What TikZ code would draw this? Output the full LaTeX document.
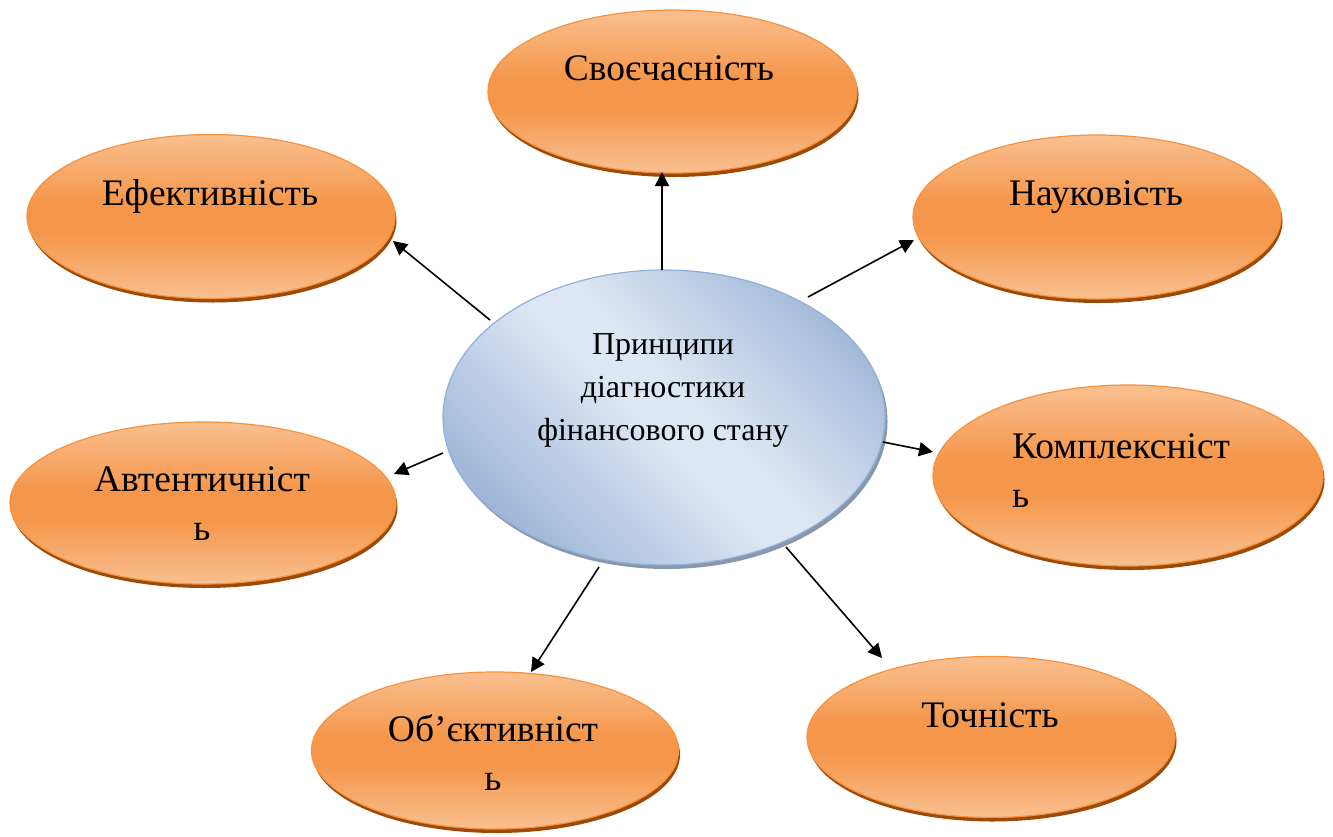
\documentclass[tikz,border=0pt]{standalone}
\usepackage{fontspec}
\setmainfont{Liberation Serif}
\usetikzlibrary{shapes.geometric,arrows.meta,shadows}
\definecolor{orL}{HTML}{F9C090}
\definecolor{orM}{HTML}{F5964A}
\definecolor{orB}{HTML}{F7913E}
\definecolor{orS}{HTML}{9C4A08}
\definecolor{blL}{HTML}{DDE7F3}
\definecolor{blD}{HTML}{9DB4D7}
\definecolor{blB}{HTML}{8EB0DB}
\definecolor{blS}{HTML}{8A97AA}
\pgfdeclareverticalshading{orshade}{100bp}{color(0bp)=(orL); color(25bp)=(orL); color(45bp)=(orM); color(54bp)=(orM); color(75bp)=(orL); color(100bp)=(orL)}
\pgfdeclareverticalshading{hubshade}{100bp}{color(0bp)=(blD); color(24bp)=(blD); color(48bp)=(blL); color(54bp)=(blL); color(78bp)=(blD); color(100bp)=(blD)}
\begin{document}
\begin{tikzpicture}[x=1pt,y=-1pt,
  petal/.style={ellipse, inner sep=0pt, draw=orB, line width=1.2pt, shading=orshade,
    general shadow={fill=orS, shadow xshift=1.5pt, shadow yshift=-4pt}},
  hub/.style={ellipse, inner sep=0pt, draw=blB, line width=1.2pt,
    shading=hubshade, shading angle=-45,
    general shadow={fill=blS, shadow xshift=2.5pt, shadow yshift=-4pt}},
  lab/.style={font=\fontsize{37.5}{49}\selectfont, align=center, anchor=base, inner sep=0pt},
  hublab/.style={font=\fontsize{32}{43}\selectfont, align=center, anchor=base, inner sep=0pt},
  arr/.style={line width=1.6pt, -{Triangle[length=14pt,width=14pt]}}]
\useasboundingbox (0,0) rectangle (1333,836);
% ellipses
\node[hub, minimum width=442pt, minimum height=295pt] (hub) at (664,417.5) {};
\node[petal, minimum width=369pt, minimum height=163pt] (e1) at (672.5,91.5) {};
\node[petal, minimum width=368pt, minimum height=164pt] (e2) at (211,216.5) {};
\node[petal, minimum width=368pt, minimum height=164pt] (e3) at (1097,217) {};
\node[petal, minimum width=390pt, minimum height=181pt] (e4) at (1128,475.5) {};
\node[petal, minimum width=386pt, minimum height=162pt] (e5) at (203,503) {};
\node[petal, minimum width=367pt, minimum height=157pt] (e6) at (495,750.5) {};
\node[petal, minimum width=368pt, minimum height=161pt] (e7) at (991,737) {};
% labels (base = baseline of the last line)
\node[hublab] (th) at (663,440) {Принципи\\діагностики\\фінансового стану};
\node[lab] (t1) at (669,80) {Своєчасність};
\node[lab] (t2) at (210,205) {Ефективність};
\node[lab] (t3) at (1096,205) {Науковість};
\node[lab, align=left, anchor=base west] (t4) at (1012,507) {Комплексніст\\ь};
\node[lab] (t5) at (202,540) {Автентичніст\\ь};
\node[lab] (t6) at (493,790) {Об’єктивніст\\ь};
\node[lab] (t7) at (990,727) {Точність};
% arrow end points
\coordinate (s1) at (662,270); \coordinate (p1) at (662,172);
\coordinate (s2) at (490,320); \coordinate (p2) at (393,241);
\coordinate (s3) at (808,297); \coordinate (p3) at (914,240);
\coordinate (s4) at (883,442); \coordinate (p4) at (933,452);
\coordinate (s5) at (443,453); \coordinate (p5) at (394,474);
\coordinate (s6) at (599,567); \coordinate (p6) at (531,672);
\coordinate (s7) at (786,547); \coordinate (p7) at (882,658);
\foreach \i in {1,...,7} {\draw[arr] (s\i) -- (p\i);}
\end{tikzpicture}
\end{document}
